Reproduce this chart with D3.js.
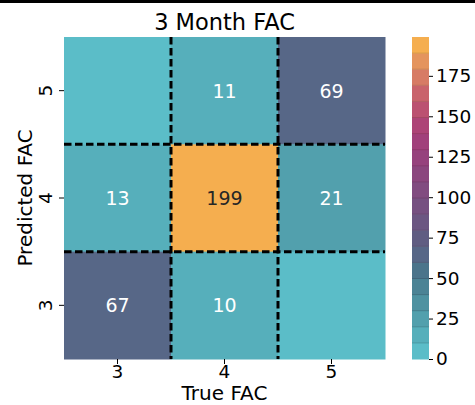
<!DOCTYPE html>
<html>
<head>
<meta charset="utf-8">
<script src="https://cdn.jsdelivr.net/npm/d3@7"></script>
<style>
  body { margin: 0; background: #fff; }
  text { font-family: "DejaVu Sans", sans-serif; }
</style>
</head>
<body>
<script>
// confusion matrix: rows = predicted (top to bottom), cols = true
const trueLabels = ['3', '4', '5'];
const predLabels = ['5', '4', '3'];
const counts = [
    [0, 11, 69],
    [13, 199, 21],
    [67, 10, 0]
];
const cbarTicks = [0, 25, 50, 75, 100, 125, 150, 175];
const vmax = 199;
// 20 discrete colormap levels, low to high
const palette = ['#5bbdc8', '#56afbb', '#52a0ad', '#4e92a1', '#4b8395', '#4b748b',
    '#576787', '#605d82', '#6b5682', '#765081', '#814b80', '#8b467e', '#96427d',
    '#a1407b', '#ad4477', '#bb5171', '#c9636c', '#d77b65', '#e4945d', '#f5ae4f'];

const width = 475, height = 405;
const mLeft = 64, mRight = 385, mTop = 37, mBottom = 359;

const svg = d3.select('body').append('svg')
    .attr('width', width)
    .attr('height', height);

svg.append('rect')
    .attr('x', 0).attr('y', 0)
    .attr('width', width).attr('height', 3)
    .attr('fill', '#000');

const x = d3.scaleBand().domain(trueLabels).range([mLeft, mRight]);
const y = d3.scaleBand().domain(predLabels).range([mTop, mBottom]);

const color = d3.scaleQuantize().domain([0, vmax]).range(palette);

const cells = [];
counts.forEach((row, i) => row.forEach((v, j) => {
    cells.push({ pred: predLabels[i], tru: trueLabels[j], v: v });
}));

svg.selectAll('rect.cell')
    .data(cells)
    .enter()
    .append('rect')
    .attr('class', 'cell')
    .attr('x', d => x(d.tru))
    .attr('y', d => y(d.pred))
    .attr('width', x.bandwidth() + 0.5)
    .attr('height', y.bandwidth() + 0.5)
    .attr('fill', d => color(Math.min(d.v, vmax - 0.01)));

svg.selectAll('text.annot')
    .data(cells.filter(d => d.v > 0))
    .enter()
    .append('text')
    .attr('class', 'annot')
    .attr('x', d => x(d.tru) + x.bandwidth() / 2)
    .attr('y', d => y(d.pred) + y.bandwidth() / 2)
    .attr('dy', '0.36em')
    .attr('text-anchor', 'middle')
    .style('font-size', '19px')
    .attr('fill', d => d.v > 150 ? '#262626' : '#fff')
    .text(d => d.v);

// dashed separators
const dash = '7.5 3.5';
[1, 2].forEach(k => {
    const xv = mLeft + k * x.step();
    const yv = mTop + k * y.step();
    svg.append('line')
        .attr('x1', xv).attr('x2', xv)
        .attr('y1', mTop).attr('y2', mBottom)
        .attr('stroke', '#000').attr('stroke-width', 3)
        .attr('stroke-dasharray', dash);
    svg.append('line')
        .attr('x1', mLeft).attr('x2', mRight)
        .attr('y1', yv).attr('y2', yv)
        .attr('stroke', '#000').attr('stroke-width', 3)
        .attr('stroke-dasharray', dash);
});

const xAxis = d3.axisBottom(x).tickSize(5).tickSizeOuter(0);
const gx = svg.append('g')
    .attr('transform', 'translate(0,' + mBottom + ')')
    .call(xAxis);
gx.select('.domain').remove();
gx.selectAll('text').style('font-size', '18.5px').attr('fill', '#000').attr('y', 6);

const yAxis = d3.axisLeft(y).tickSize(5).tickSizeOuter(0);
const gy = svg.append('g')
    .attr('transform', 'translate(' + mLeft + ',0)')
    .call(yAxis);
gy.select('.domain').remove();
gy.selectAll('text')
    .style('font-size', '18.5px')
    .attr('fill', '#000')
    .attr('x', null).attr('dy', null)
    .attr('text-anchor', 'middle')
    .attr('transform', 'translate(-12,0) rotate(-90)');

svg.append('text')
    .attr('x', (mLeft + mRight) / 2)
    .attr('y', 30)
    .attr('text-anchor', 'middle')
    .style('font-size', '22.5px')
    .text('3 Month FAC');

svg.append('text')
    .attr('x', (mLeft + mRight) / 2)
    .attr('y', 400)
    .attr('text-anchor', 'middle')
    .style('font-size', '20px')
    .text('True FAC');

svg.append('text')
    .attr('transform', 'translate(32,' + (mTop + mBottom) / 2 + ') rotate(-90)')
    .attr('text-anchor', 'middle')
    .style('font-size', '20px')
    .text('Predicted FAC');

// colorbar
const cbX = 412, cbW = 17;
const cb = d3.scaleLinear().domain([0, vmax]).range([mBottom, mTop]);
const step = vmax / palette.length;
svg.selectAll('rect.bin')
    .data(palette)
    .enter()
    .append('rect')
    .attr('class', 'bin')
    .attr('x', cbX)
    .attr('y', (c, i) => cb((i + 1) * step))
    .attr('width', cbW)
    .attr('height', (c, i) => cb(i * step) - cb((i + 1) * step) + 0.5)
    .attr('fill', c => c);
svg.selectAll('line.binsep')
    .data(d3.range(1, palette.length))
    .enter()
    .append('line')
    .attr('class', 'binsep')
    .attr('x1', cbX).attr('x2', cbX + cbW)
    .attr('y1', i => cb(i * step)).attr('y2', i => cb(i * step))
    .attr('stroke', 'rgba(0,0,0,0.12)')
    .attr('stroke-width', 1);

const cAxis = d3.axisRight(cb).tickValues(cbarTicks).tickSize(4).tickSizeOuter(0);
const gc = svg.append('g')
    .attr('transform', 'translate(' + (cbX + cbW) + ',0)')
    .call(cAxis);
gc.select('.domain').remove();
gc.selectAll('text').style('font-size', '18.5px').attr('fill', '#000').attr('x', 7);
</script>
</body>
</html>
